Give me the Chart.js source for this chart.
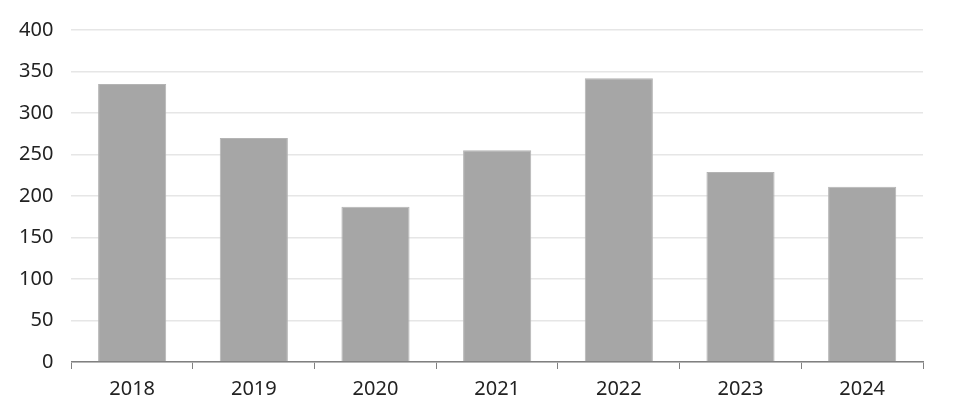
<!DOCTYPE html>
<html lang="en">
<head>
    <meta charset="UTF-8">
    <title>Bar chart 2018-2024</title>
    <script src="https://cdn.jsdelivr.net/npm/chart.js"></script>
    <style>
        html, body { margin: 0; padding: 0; background: #fff; }
        #wrap { width: 953px; height: 417px; }
    </style>
</head>
<body>
    <div id="wrap"><canvas id="barChart"></canvas></div>

    <script>
        // values
        const years = ['2018', '2019', '2020', '2021', '2022', '2023', '2024'];
        const values = [335, 270, 187, 255, 342, 229, 211];
        const yTicks = [0, 50, 100, 150, 200, 250, 300, 350, 400];

        const labelFont = { family: 'Noto Sans', size: 20 };

        new Chart(document.getElementById('barChart').getContext('2d'), {
            type: 'bar',
            data: {
                labels: years,
                datasets: [{
                    data: values,
                    backgroundColor: '#a6a6a6',
                    borderColor: '#b4b4b4',
                    borderWidth: 1,
                    barPercentage: 0.56,
                    categoryPercentage: 1.0
                }]
            },
            options: {
                responsive: true,
                maintainAspectRatio: false,
                animation: false,
                layout: { padding: { left: 1, right: 30, top: 16, bottom: 8 } },
                plugins: {
                    legend: { display: false },
                    tooltip: { enabled: false }
                },
                scales: {
                    x: {
                        grid: {
                            offset: true,
                            drawOnChartArea: false,
                            drawTicks: true,
                            tickLength: 7,
                            color: '#808080'
                        },
                        border: { display: true, color: '#808080', width: 1.5 },
                        ticks: { font: labelFont, color: '#222', padding: 8 }
                    },
                    y: {
                        min: 0,
                        max: 400,
                        afterBuildTicks: axis => { axis.ticks = yTicks.map(v => ({ value: v })); },
                        grid: { color: '#e6e6e6', lineWidth: 1.5, drawTicks: false },
                        border: { display: false },
                        ticks: { font: labelFont, color: '#222', padding: 18 }
                    }
                }
            }
        });
    </script>
</body>
</html>
